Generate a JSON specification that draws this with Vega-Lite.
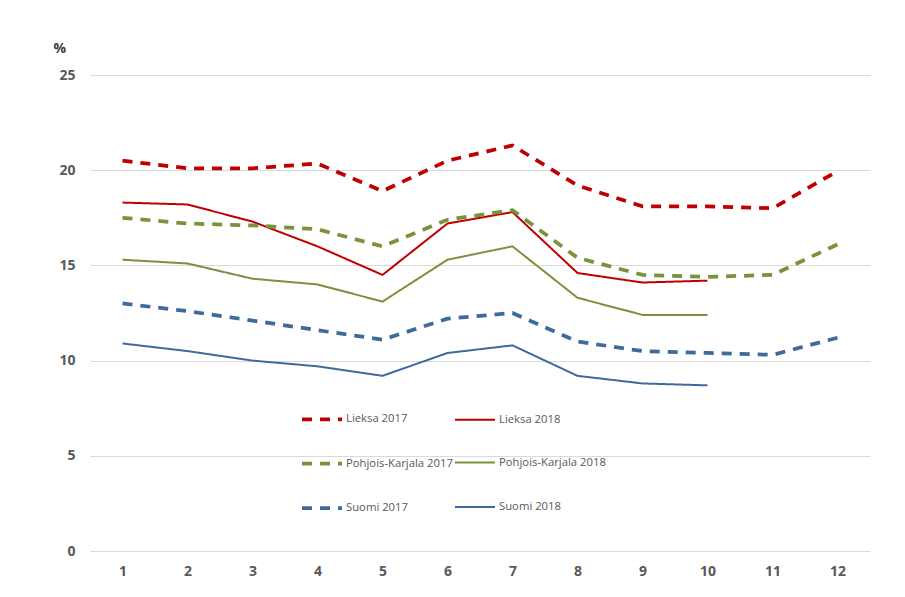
{
  "$schema": "https://vega.github.io/schema/vega-lite/v6.json",
  "autosize": "none",
  "width": 780,
  "height": 476,
  "padding": {"left": 90, "top": 75, "right": 35, "bottom": 46},
  "background": "white",
  "config": {
    "view": {"stroke": null},
    "font": "Open Sans"
  },
  "data": {
    "values": [
      {"s": "Lieksa 2017", "m": 1, "v": 20.5}, {"s": "Lieksa 2017", "m": 2, "v": 20.1}, {"s": "Lieksa 2017", "m": 3, "v": 20.1}, {"s": "Lieksa 2017", "m": 4, "v": 20.35}, {"s": "Lieksa 2017", "m": 5, "v": 18.9}, {"s": "Lieksa 2017", "m": 6, "v": 20.5}, {"s": "Lieksa 2017", "m": 7, "v": 21.3}, {"s": "Lieksa 2017", "m": 8, "v": 19.2}, {"s": "Lieksa 2017", "m": 9, "v": 18.1}, {"s": "Lieksa 2017", "m": 10, "v": 18.1}, {"s": "Lieksa 2017", "m": 11, "v": 18.0}, {"s": "Lieksa 2017", "m": 12, "v": 19.95},
      {"s": "Lieksa 2018", "m": 1, "v": 18.3}, {"s": "Lieksa 2018", "m": 2, "v": 18.2}, {"s": "Lieksa 2018", "m": 3, "v": 17.3}, {"s": "Lieksa 2018", "m": 4, "v": 16.0}, {"s": "Lieksa 2018", "m": 5, "v": 14.5}, {"s": "Lieksa 2018", "m": 6, "v": 17.2}, {"s": "Lieksa 2018", "m": 7, "v": 17.8}, {"s": "Lieksa 2018", "m": 8, "v": 14.6}, {"s": "Lieksa 2018", "m": 9, "v": 14.1}, {"s": "Lieksa 2018", "m": 10, "v": 14.2},
      {"s": "Pohjois-Karjala 2017", "m": 1, "v": 17.5}, {"s": "Pohjois-Karjala 2017", "m": 2, "v": 17.2}, {"s": "Pohjois-Karjala 2017", "m": 3, "v": 17.1}, {"s": "Pohjois-Karjala 2017", "m": 4, "v": 16.9}, {"s": "Pohjois-Karjala 2017", "m": 5, "v": 16.0}, {"s": "Pohjois-Karjala 2017", "m": 6, "v": 17.4}, {"s": "Pohjois-Karjala 2017", "m": 7, "v": 17.9}, {"s": "Pohjois-Karjala 2017", "m": 8, "v": 15.4}, {"s": "Pohjois-Karjala 2017", "m": 9, "v": 14.5}, {"s": "Pohjois-Karjala 2017", "m": 10, "v": 14.4}, {"s": "Pohjois-Karjala 2017", "m": 11, "v": 14.5}, {"s": "Pohjois-Karjala 2017", "m": 12, "v": 16.1},
      {"s": "Pohjois-Karjala 2018", "m": 1, "v": 15.3}, {"s": "Pohjois-Karjala 2018", "m": 2, "v": 15.1}, {"s": "Pohjois-Karjala 2018", "m": 3, "v": 14.3}, {"s": "Pohjois-Karjala 2018", "m": 4, "v": 14.0}, {"s": "Pohjois-Karjala 2018", "m": 5, "v": 13.1}, {"s": "Pohjois-Karjala 2018", "m": 6, "v": 15.3}, {"s": "Pohjois-Karjala 2018", "m": 7, "v": 16.0}, {"s": "Pohjois-Karjala 2018", "m": 8, "v": 13.3}, {"s": "Pohjois-Karjala 2018", "m": 9, "v": 12.4}, {"s": "Pohjois-Karjala 2018", "m": 10, "v": 12.4},
      {"s": "Suomi 2017", "m": 1, "v": 13.0}, {"s": "Suomi 2017", "m": 2, "v": 12.6}, {"s": "Suomi 2017", "m": 3, "v": 12.1}, {"s": "Suomi 2017", "m": 4, "v": 11.6}, {"s": "Suomi 2017", "m": 5, "v": 11.1}, {"s": "Suomi 2017", "m": 6, "v": 12.2}, {"s": "Suomi 2017", "m": 7, "v": 12.5}, {"s": "Suomi 2017", "m": 8, "v": 11.0}, {"s": "Suomi 2017", "m": 9, "v": 10.5}, {"s": "Suomi 2017", "m": 10, "v": 10.4}, {"s": "Suomi 2017", "m": 11, "v": 10.3}, {"s": "Suomi 2017", "m": 12, "v": 11.2},
      {"s": "Suomi 2018", "m": 1, "v": 10.9}, {"s": "Suomi 2018", "m": 2, "v": 10.5}, {"s": "Suomi 2018", "m": 3, "v": 10.0}, {"s": "Suomi 2018", "m": 4, "v": 9.7}, {"s": "Suomi 2018", "m": 5, "v": 9.2}, {"s": "Suomi 2018", "m": 6, "v": 10.4}, {"s": "Suomi 2018", "m": 7, "v": 10.8}, {"s": "Suomi 2018", "m": 8, "v": 9.2}, {"s": "Suomi 2018", "m": 9, "v": 8.8}, {"s": "Suomi 2018", "m": 10, "v": 8.7}
    ]
  },
  "mark": {"type": "line", "strokeCap": "butt"},
  "encoding": {
    "x": {
      "field": "m", "type": "quantitative",
      "scale": {"domain": [0.5, 12.5], "nice": false, "zero": false},
      "axis": {
        "values": [1,2,3,4,5,6,7,8,9,10,11,12],
        "title": null, "grid": false, "domain": false, "ticks": false,
        "labelFont": "Open Sans", "labelFontWeight": "bold", "labelFontSize": 14,
        "labelColor": "#595959", "labelPadding": 13
      }
    },
    "y": {
      "field": "v", "type": "quantitative",
      "scale": {"domain": [0, 25], "nice": false},
      "axis": {
        "values": [0, 5, 10, 15, 20, 25],
        "title": "%", "titleAngle": 0, "titleAlign": "left", "titleBaseline": "middle",
        "titleX": -37, "titleY": -27, "titleFont": "Open Sans", "titleFontSize": 14,
        "titleFontWeight": "bold", "titleColor": "#404040",
        "domain": false, "ticks": false,
        "gridColor": "#d9d9d9", "gridWidth": 1,
        "labelFont": "Open Sans", "labelFontWeight": "bold", "labelFontSize": 14,
        "labelColor": "#595959", "labelPadding": 15
      }
    },
    "color": {
      "field": "s", "type": "nominal",
      "scale": {
        "domain": ["Lieksa 2017", "Lieksa 2018", "Pohjois-Karjala 2017", "Pohjois-Karjala 2018", "Suomi 2017", "Suomi 2018"],
        "range": ["#C00000", "#C00000", "#77933C", "#77933C", "#3F6A9C", "#3F6A9C"]
      },
      "legend": {
        "orient": "none", "legendX": 210, "legendY": 322, "direction": "horizontal", "columns": 2,
        "title": null, "symbolType": "stroke", "symbolSize": 1600,
        "labelFont": "Open Sans", "labelFontSize": 11.3, "labelColor": "#595959",
        "labelOffset": 2, "columnPadding": -5, "rowPadding": 14.5, "symbolOffset": 0
      }
    },
    "strokeDash": {
      "field": "s", "type": "nominal",
      "scale": {
        "type": "ordinal",
        "domain": ["Lieksa 2017", "Lieksa 2018", "Pohjois-Karjala 2017", "Pohjois-Karjala 2018", "Suomi 2017", "Suomi 2018"],
        "range": [[10, 8], [1, 0], [10, 8], [1, 0], [10, 8], [1, 0]]
      },
      "legend": null
    },
    "strokeWidth": {
      "field": "s", "type": "nominal",
      "scale": {
        "type": "ordinal",
        "domain": ["Lieksa 2017", "Lieksa 2018", "Pohjois-Karjala 2017", "Pohjois-Karjala 2018", "Suomi 2017", "Suomi 2018"],
        "range": [3.75, 2, 3.75, 2, 3.75, 2]
      },
      "legend": null
    }
  }
}
